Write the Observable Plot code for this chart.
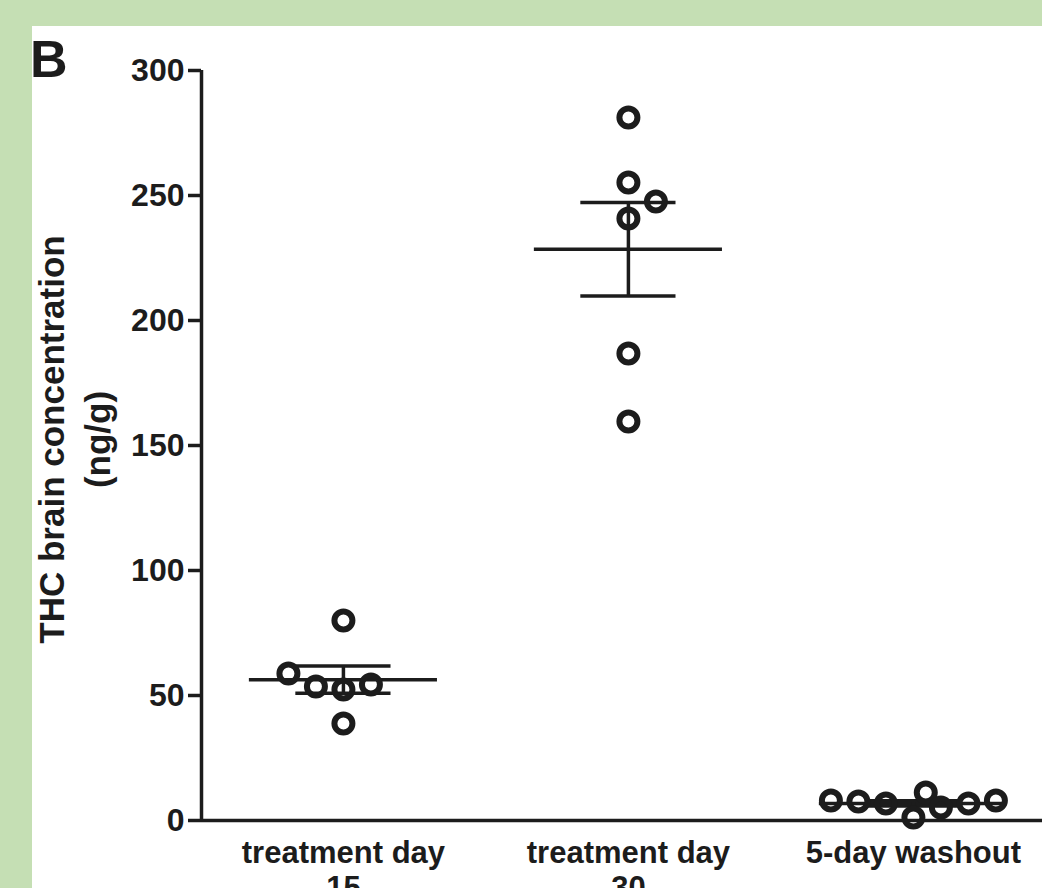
<!DOCTYPE html>
<html>
<head>
<meta charset="utf-8">
<script src="https://cdn.jsdelivr.net/npm/d3@7"></script>
<script src="https://cdn.jsdelivr.net/npm/@observablehq/plot@0.6"></script>
<style>
  html, body { margin: 0; padding: 0; }
  body { width: 1042px; height: 888px; background: #c5dfb4; position: relative; overflow: hidden;
         font-family: "Liberation Sans", Arial, Helvetica, sans-serif; }
  #panel { position: absolute; left: 32px; top: 26px; width: 1010px; height: 862px; background: #ffffff; overflow: hidden; }
  #letter { position: absolute; left: -2px; top: 7px; font-size: 52px; line-height: 1; font-weight: bold; color: #1c1c1c; }
  #chart { position: absolute; left: 0; top: 0; }
</style>
</head>
<body>
<div id="panel">
  <div id="chart"></div>
  <div id="letter">B</div>
</div>
<script>
// ---- data ----
const groupLabels = ["treatment day\n15", "treatment day\n30", "5-day washout"];
const day15Values = [80, 58.8, 53.6, 52.4, 54.4, 38.8];
const day15Slots  = [0, -2, -1, 0, 1, 0];
const day30Values = [281.2, 255.2, 247.6, 240.8, 186.8, 159.6];
const day30Slots  = [0, 0, 1, 0, 0, 0];
const washoutValues = [8, 7.6, 6.8, 1.2, 11.2, 5.2, 6.8, 8];
const washoutSlots  = [-3, -2, -1, 0, 0.45, 1, 2, 3];
const yTicks = [0, 50, 100, 150, 200, 250, 300];
const yLabel = "THC brain concentration\n(ng/g)";

// ---- build table ----
const series = [
  {g: 0, values: day15Values, slots: day15Slots},
  {g: 1, values: day30Values, slots: day30Slots},
  {g: 2, values: washoutValues, slots: washoutSlots}
];
const slotUnit = 0.0965;
const points = series.flatMap(s => s.values.map((v, i) => ({g: s.g, slot: s.slots[i], value: v})));
const stats = series.map(s => {
  const m = d3.mean(s.values);
  const sem = d3.deviation(s.values) / Math.sqrt(s.values.length);
  return {g: s.g, mean: m, lo: m - sem, hi: m + sem};
});

const xDomain = [-0.498, 2.453];
const ink = "#1c1c1c";
const font = "'Liberation Sans', Arial, Helvetica, sans-serif";

const chart = Plot.plot({
  width: 1010,
  height: 862,
  marginLeft: 169,
  marginRight: 0,
  marginTop: 44,
  marginBottom: 68,
  style: {background: "transparent", fontFamily: font, color: ink, overflow: "visible"},
  x: {type: "linear", domain: xDomain},
  y: {domain: [0, 300]},
  marks: [
    Plot.axisY({ticks: yTicks, tickSize: 13, tickPadding: 4, fontSize: 32, fontWeight: "bold",
                strokeWidth: 3.5, stroke: ink, fill: ink, label: null}),
    Plot.axisX({ticks: [0, 1, 2], tickFormat: i => groupLabels[i], tickSize: 0, tickPadding: 17,
                fontSize: 31, fontWeight: "bold", lineHeight: 1.15, fill: ink, label: null}),
    Plot.text([yLabel], {frameAnchor: "left", rotate: -90, dx: -129, dy: -6, fontSize: 35,
                fontWeight: "bold", lineHeight: 1.3, fill: ink, textAnchor: "middle", lineAnchor: "middle"}),
    Plot.ruleY([0], {stroke: ink, strokeWidth: 3.5}),
    Plot.ruleX([xDomain[0]], {y1: 0, y2: 300, stroke: ink, strokeWidth: 3.5}),
    // mean lines
    Plot.ruleY(stats, {y: "mean", x1: d => d.g - 0.33, x2: d => d.g + 0.33, stroke: ink, strokeWidth: 3.5}),
    // SEM bars
    Plot.ruleX(stats, {x: "g", y1: "lo", y2: "hi", stroke: ink, strokeWidth: 3.5}),
    Plot.ruleY(stats, {y: "hi", x1: d => d.g - 0.167, x2: d => d.g + 0.167, stroke: ink, strokeWidth: 3.5}),
    Plot.ruleY(stats, {y: "lo", x1: d => d.g - 0.167, x2: d => d.g + 0.167, stroke: ink, strokeWidth: 3.5}),
    // individual animals
    Plot.dot(points, {x: d => d.g + d.slot * slotUnit, y: "value", r: 9, stroke: ink, strokeWidth: 6, fill: "none"})
  ]
});
document.getElementById("chart").appendChild(chart);
</script>
</body>
</html>
